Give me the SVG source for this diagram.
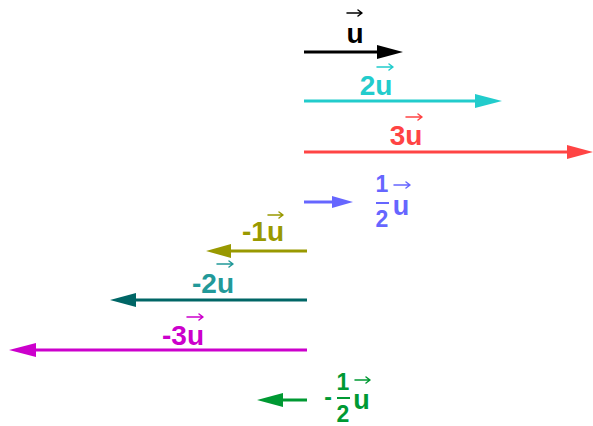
<svg xmlns="http://www.w3.org/2000/svg" width="593" height="426" viewBox="0 0 593 426">
<style>
text{font-family:"Liberation Sans",Arial,sans-serif;font-weight:bold}
.lbl{font-size:28px;text-anchor:middle}
.frac{font-size:23px;text-anchor:middle}
.fu{font-size:27px;text-anchor:middle}
.shaft{stroke-width:3;fill:none}
.ov{stroke-width:1.5;fill:none;stroke-linecap:round;stroke-linejoin:round}
</style>
<rect width="593" height="426" fill="#ffffff"/>
<g id="connectors">
  <g id="v-u">
    <line class="shaft" x1="304" y1="52" x2="380" y2="52" stroke="#000000"/>
    <polygon points="403,52 377,45 377,59" fill="#000000"/>
  </g>
  <g id="v-2u">
    <line class="shaft" x1="304" y1="101" x2="478" y2="101" stroke="#22cccc"/>
    <polygon points="502,101 475,94 475,108" fill="#22cccc"/>
  </g>
  <g id="v-3u">
    <line class="shaft" x1="304" y1="152" x2="570" y2="152" stroke="#ff4444"/>
    <polygon points="593,152 567,145 567,159" fill="#ff4444"/>
  </g>
  <g id="v-half">
    <line class="shaft" x1="304" y1="202" x2="335" y2="202" stroke="#6666ff"/>
    <polygon points="353,202 332,196 332,208" fill="#6666ff"/>
  </g>
  <g id="v-m1u">
    <line class="shaft" x1="307" y1="251" x2="227" y2="251" stroke="#999900"/>
    <polygon points="206,251 231,244 231,258" fill="#999900"/>
  </g>
  <g id="v-m2u">
    <line class="shaft" x1="307" y1="300" x2="132" y2="300" stroke="#006666"/>
    <polygon points="110,300 136,293 136,307" fill="#006666"/>
  </g>
  <g id="v-m3u">
    <line class="shaft" x1="307" y1="350" x2="32" y2="350" stroke="#cc00cc"/>
    <polygon points="9,350 36,343 36,357" fill="#cc00cc"/>
  </g>
  <g id="v-mhalf">
    <line class="shaft" x1="307" y1="400" x2="279" y2="400" stroke="#009933"/>
    <polygon points="257,400 283,393 283,407" fill="#009933"/>
  </g>
</g>
<g id="label-u" fill="#000000">
  <text class="lbl" x="355" y="43">u</text>
  <path class="ov" d="M347 13 H362 M358 10 L362 13 L358 16" stroke="#000000"/>
</g>
<g id="label-2u" fill="#22cccc">
  <text class="lbl" x="376" y="95">2u</text>
  <path class="ov" d="M377 67 H393 M389 64 L393 67 L389 70" stroke="#22cccc"/>
</g>
<g id="label-3u" fill="#ff4444">
  <text class="lbl" x="406" y="145">3u</text>
  <path class="ov" d="M406 117 H422 M418 114 L422 117 L418 120" stroke="#ff4444"/>
</g>
<g id="label-half" fill="#6666ff">
  <text class="frac" x="382" y="192">1</text>
  <line x1="376" y1="203" x2="389" y2="203" stroke="#6666ff" stroke-width="2"/>
  <text class="frac" x="382" y="227">2</text>
  <text class="fu" x="401" y="215">u</text>
  <path class="ov" d="M394 185 H410 M406 182 L410 185 L406 188" stroke="#6666ff"/>
</g>
<g id="label-m1u" fill="#999900">
  <text class="lbl" x="263" y="241">-1u</text>
  <path class="ov" d="M268 215 H283 M279 212 L283 215 L279 218" stroke="#999900"/>
</g>
<g id="label-m2u" fill="#229999">
  <text class="lbl" x="213" y="293">-2u</text>
  <path class="ov" d="M217 264 H233 M229 261 L233 264 L229 267" stroke="#229999"/>
</g>
<g id="label-m3u" fill="#cc00cc">
  <text class="lbl" x="183" y="345">-3u</text>
  <path class="ov" d="M187 317 H203 M199 314 L203 317 L199 320" stroke="#cc00cc"/>
</g>
<g id="label-mhalf" fill="#009933">
  <text class="frac" x="328" y="405">-</text>
  <text class="frac" x="343" y="390">1</text>
  <line x1="337" y1="398" x2="350" y2="398" stroke="#009933" stroke-width="2"/>
  <text class="frac" x="343" y="422">2</text>
  <text class="fu" x="361.5" y="409">u</text>
  <path class="ov" d="M355 380 H370 M366 377 L370 380 L366 383" stroke="#009933"/>
</g>
</svg>
